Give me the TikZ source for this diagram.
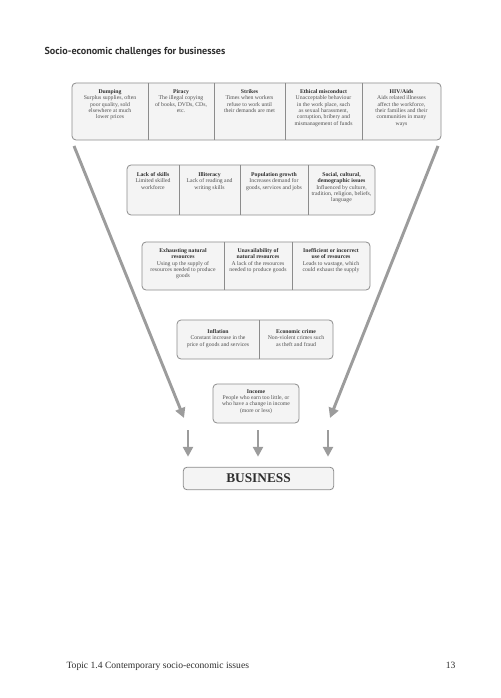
\documentclass[tikz,border=0pt]{standalone}
\usepackage{fontspec}
\setmainfont{Liberation Serif}
\newfontfamily\titlefont{PT Sans}
\usetikzlibrary{arrows.meta}
\definecolor{boxfill}{HTML}{F4F4F4}
\definecolor{boxline}{HTML}{8C8C8C}
\definecolor{headgray}{HTML}{2E2E2E}
\definecolor{bodygray}{HTML}{505050}
\definecolor{arrowgray}{HTML}{9C9C9C}
\newcommand{\boxhead}[1]{{\bfseries\color{headgray}#1}}
\tikzset{
rowbox/.style={draw=boxline, fill=boxfill, line width=0.6pt, rounded corners=3pt},
divline/.style={draw=boxline, line width=0.6pt},
cell/.style={anchor=north, align=center, inner sep=0.75pt, text=bodygray, font=\fontsize{4.3}{4.75}\selectfont},
bigarrow/.style={draw=arrowgray, line width=2.2pt, -{Triangle[width=7.5pt,length=7.5pt]}},
busbox/.style={draw=boxline, fill=boxfill, line width=0.6pt, rounded corners=3pt, minimum width=113pt, minimum height=17pt, inner sep=0pt, text=headgray, font=\bfseries\fontsize{10}{12}\selectfont}}
\tikzset{every picture/.style={line width=0.75pt}}
\begin{document}
\begin{tikzpicture}[x=0.75pt,y=0.75pt,yscale=-1,xscale=1]
\useasboundingbox (0,0) rectangle (500,698);

% Text Node
\node [anchor=west][inner sep=0pt][font=\titlefont\bfseries\fontsize{7.6}{8}\selectfont][text=headgray] (title) at (44,52) {Socio-economic challenges for businesses};

%Straight Lines [id:diag1]
\coordinate (lstart) at (74,146);
\coordinate (lend) at (184,418);
\coordinate (rstart) at (438,146);
\coordinate (rend) at (330,418);
\draw [bigarrow] (lstart) -- (lend);
\draw [bigarrow] (rstart) -- (rend);

%Shape: Rectangle [id:row1]
\draw [rowbox] (72,83) rectangle (441,140);
\draw [divline] (148,83) -- (148,140);
\draw [divline] (214,83) -- (214,140);
\draw [divline] (285,83) -- (285,140);
\draw [divline] (362,83) -- (362,140);
% Text Node
\node [cell] (dumping) at (110,88) {\boxhead{Dumping}\\Surplus supplies, often\\poor quality, sold\\elsewhere at much\\lower prices};
% Text Node
\node [cell] (piracy) at (181,88) {\boxhead{Piracy}\\The illegal copying\\of books, DVDs, CDs,\\etc.};
% Text Node
\node [cell] (strikes) at (249.5,88) {\boxhead{Strikes}\\Times when workers\\refuse to work until\\their demands are met};
% Text Node
\node [cell] (ethics) at (323.5,88) {\boxhead{Ethical misconduct}\\Unacceptable behaviour\\in the work place, such\\as sexual harassment,\\corruption, bribery and\\mismanagement of funds};
% Text Node
\node [cell] (hivaids) at (401.5,88) {\boxhead{HIV/Aids}\\Aids related illnesses\\affect the workforce,\\their families and their\\communities in many\\ways};

%Shape: Rectangle [id:row2]
\draw [rowbox] (127,165) rectangle (375,215);
\draw [divline] (179,165) -- (179,215);
\draw [divline] (240,165) -- (240,215);
\draw [divline] (308,165) -- (308,215);
% Text Node
\node [cell] (skills) at (153,171) {\boxhead{Lack of skills}\\Limited skilled\\workforce};
% Text Node
\node [cell] (illiteracy) at (209.5,171) {\boxhead{Illiteracy}\\Lack of reading and\\writing skills};
% Text Node
\node [cell] (population) at (274,171) {\boxhead{Population growth}\\Increases demand for\\goods, services and jobs};
% Text Node
\node [cell] (social) at (341.5,171) {\boxhead{Social, cultural,}\\\boxhead{demographic issues}\\Influenced by culture,\\tradition, religion, beliefs,\\language};

%Shape: Rectangle [id:row3]
\draw [rowbox] (142,242) rectangle (370,290);
\draw [divline] (224,242) -- (224,290);
\draw [divline] (292,242) -- (292,290);
% Text Node
\node [cell] (exhausting) at (183,247) {\boxhead{Exhausting natural}\\\boxhead{resources}\\Using up the supply of\\resources needed to produce\\goods};
% Text Node
\node [cell] (unavailable) at (258,247) {\boxhead{Unavailability of}\\\boxhead{natural resources}\\A lack of the resources\\needed to produce goods};
% Text Node
\node [cell] (inefficient) at (331,247) {\boxhead{Inefficient or incorrect}\\\boxhead{use of resources}\\Leads to wastage, which\\could exhaust the supply};

%Shape: Rectangle [id:row4]
\draw [rowbox] (177,320) rectangle (333,359);
\draw [divline] (259,320) -- (259,359);
% Text Node
\node [cell] (inflation) at (218,328) {\boxhead{Inflation}\\Constant increase in the\\price of goods and services};
% Text Node
\node [cell] (crime) at (296,328) {\boxhead{Economic crime}\\Non-violent crimes such\\as theft and fraud};

%Shape: Rectangle [id:income]
\draw [rowbox] (213,384) rectangle (299,423);
% Text Node
\node [cell] (income) at (256,388) {\boxhead{Income}\\People who earn too little, or\\who have a change in income\\(more or less)};

%Shape: Rectangle [id:business]
\node [busbox] (busi) at (258.5,478.5) {BUSINESS};

%Straight Lines [id:down]
\foreach \xx [count=\ii] in {188,258,328}{
  \coordinate (down\ii) at (\xx,430);
  \draw [bigarrow, shorten >=7.5pt] (down\ii) -- (down\ii |- busi.north);
}

% Text Node
\node [anchor=base west][inner sep=0pt][font=\fontsize{7.2}{8}\selectfont][text=headgray] (topic) at (66,668) {Topic 1.4 Contemporary socio-economic issues};
% Text Node
\node [anchor=base east][inner sep=0pt][font=\fontsize{7.2}{8}\selectfont][text=headgray] (pagenum) at (456,668) {13};

\end{tikzpicture}
\end{document}
